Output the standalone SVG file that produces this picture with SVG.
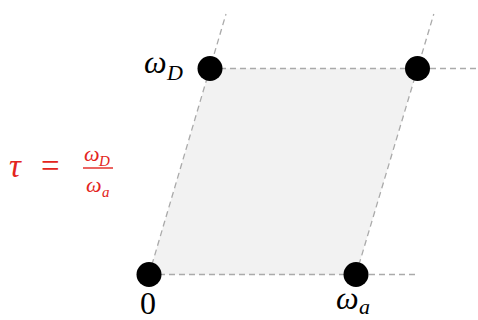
<svg xmlns="http://www.w3.org/2000/svg" width="478" height="320" viewBox="0 0 478 320">
<style>
.dash{stroke:#aaaaaa;stroke-width:1.3;stroke-dasharray:6 4;fill:none}
.dot{fill:#000}
.m{font-family:"Liberation Serif","DejaVu Serif",serif;fill:#000}
.i{font-style:italic}
.red{fill:#e32420}
</style>
<rect width="478" height="320" fill="#fff"/>
<polygon id="cell" points="149,274.5 356,274.5 417.5,68.5 210,68.5" fill="#f2f2f2"/>
<g id="connectors">
<line class="dash" x1="149" y1="274.5" x2="415" y2="274.5"/>
<line class="dash" x1="210" y1="68.5" x2="478" y2="68.5"/>
<line class="dash" x1="149" y1="274.5" x2="226" y2="14"/>
<line class="dash" x1="356" y1="274.5" x2="433.8" y2="14"/>
</g>
<g id="node-0">
<circle class="dot" cx="149" cy="274.5" r="12.5"/>
<text class="m" x="148" y="314" font-size="32" text-anchor="middle">0</text>
</g>
<g id="node-wa">
<circle class="dot" cx="356" cy="274.5" r="12.5"/>
<text class="m i" x="336" y="309" font-size="32">ω<tspan x="359" y="314" font-size="22">a</tspan></text>
</g>
<g id="node-wD">
<circle class="dot" cx="210" cy="68.5" r="12.5"/>
<text class="m i" x="144" y="73" font-size="32">ω<tspan x="167" y="80" font-size="22">D</tspan></text>
</g>
<g id="node-top">
<circle class="dot" cx="417.5" cy="68.5" r="12.5"/>
</g>
<g id="formula" class="red">
<text class="m i red" x="9" y="177" font-size="33">τ</text>
<text class="m red" x="41" y="177" font-size="33">=</text>
<text class="m i red" x="84" y="161" font-size="22">ω<tspan x="99" y="166" font-size="15">D</tspan></text>
<rect x="83" y="167.3" width="30" height="1.4" fill="#e32420"/>
<text class="m i red" x="86" y="192" font-size="22">ω<tspan x="102" y="197" font-size="15">a</tspan></text>
</g>
</svg>
